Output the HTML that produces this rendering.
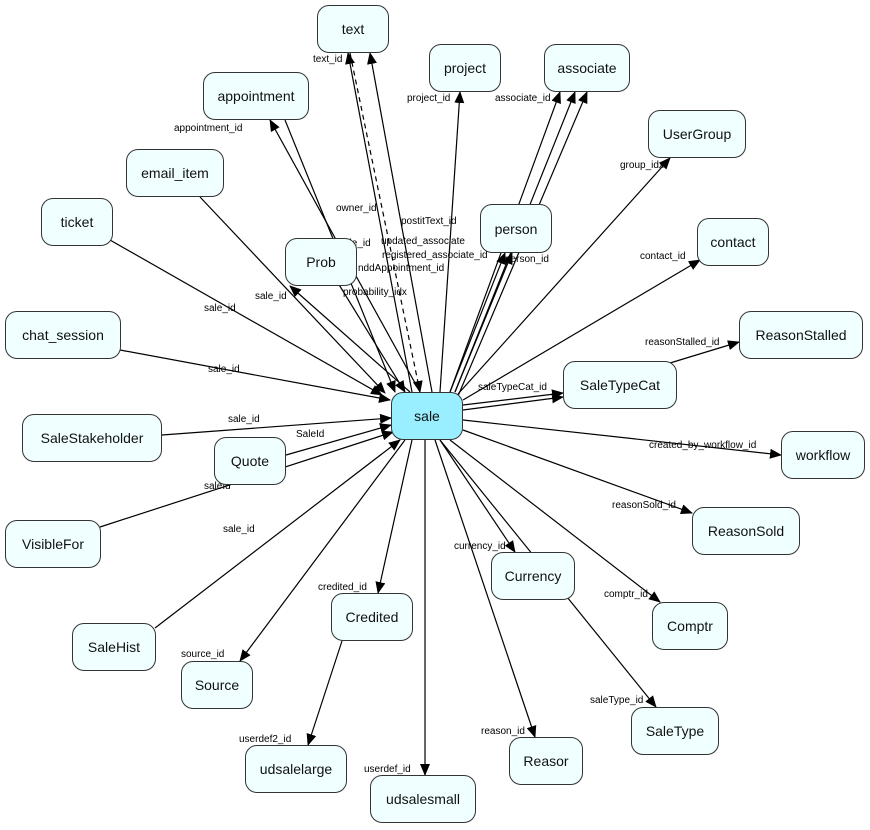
<!DOCTYPE html>
<html><head><meta charset="utf-8"><style>
body{margin:0;background:#fff}
.n{position:absolute;background:#f0ffff;border:1px solid #333;border-radius:12px;box-sizing:border-box;display:flex;align-items:center;justify-content:center;font:14px "Liberation Sans",sans-serif;color:#111}
svg{position:absolute;left:0;top:0}
svg text{font:10px "Liberation Sans",sans-serif;fill:#000}
</style></head><body>
<svg width="870" height="830">
<defs><marker id="a" markerWidth="12" markerHeight="10" refX="11" refY="5" orient="auto" markerUnits="userSpaceOnUse"><path d="M0,0L12,5L0,10z" fill="#000"/></marker></defs>
<g stroke="#000" stroke-width="1.2" fill="none" marker-end="url(#a)">
<!-- incoming to sale -->
<path d="M285,120 L395,392"/>
<path d="M200,197 L385,393"/>
<path d="M110,240 L382,395"/>
<path d="M120,350 L390,400"/>
<path d="M162,435 L391,418"/>
<path d="M286,455 L391,425"/>
<path d="M100,527 L393,432"/>
<path d="M155,628 L400,440"/>
<path d="M330,270 L405,392"/>
<path d="M350,53 L420,392" stroke-dasharray="5,4"/>
<!-- outgoing -->
<path d="M412,392 L348,53"/>
<path d="M432,392 L370,53"/>
<path d="M420,392 L270,120"/>
<path d="M410,392 L290,286"/>
<path d="M440,392 L460,92"/>
<path d="M450,392 L560,92"/>
<path d="M455,392 L575,92"/>
<path d="M458,396 L587,92"/>
<path d="M450,392 L505,253"/>
<path d="M455,392 L512,253"/>
<path d="M458,394 L670,158"/>
<path d="M463,400 L700,260"/>
<path d="M670,363 L739,342"/>
<path d="M463,405 L563,393"/>
<path d="M463,410 L563,397"/>
<path d="M463,420 L781,455"/>
<path d="M463,430 L692,513"/>
<path d="M440,440 L515,552"/>
<path d="M412,440 L378,593"/>
<path d="M450,440 L660,602"/>
<path d="M405,440 L240,661"/>
<path d="M440,440 L656,707"/>
<path d="M435,440 L535,737"/>
<path d="M425,440 L425,775"/>
<path d="M342,641 L308,745"/>
</g>
<text x="313" y="62">text_id</text>
<text x="407" y="101">project_id</text>
<text x="495" y="101">associate_id</text>
<text x="174" y="131">appointment_id</text>
<text x="620" y="168">group_idx</text>
<text x="336" y="211">owner_id</text>
<text x="401" y="224">postitText_id</text>
<text x="339" y="246">sale_id</text>
<text x="381" y="244">updated_associate</text>
<text x="382" y="258">registered_associate_id</text>
<text x="358" y="271">nddAppointment_id</text>
<text x="505" y="262">person_id</text>
<text x="640" y="259">contact_id</text>
<text x="343" y="295">probability_idx</text>
<text x="255" y="299">sale_id</text>
<text x="204" y="311">sale_id</text>
<text x="645" y="345">reasonStalled_id</text>
<text x="208" y="372">sale_id</text>
<text x="478" y="390">saleTypeCat_id</text>
<text x="228" y="422">sale_id</text>
<text x="296" y="437">SaleId</text>
<text x="649" y="448">created_by_workflow_id</text>
<text x="204" y="489">saleId</text>
<text x="612" y="508">reasonSold_id</text>
<text x="223" y="532">sale_id</text>
<text x="454" y="549">currency_id</text>
<text x="318" y="590">credited_id</text>
<text x="604" y="597">comptr_id</text>
<text x="181" y="657">source_id</text>
<text x="590" y="703">saleType_id</text>
<text x="481" y="734">reason_id</text>
<text x="239" y="742">userdef2_id</text>
<text x="364" y="772">userdef_id</text>
</svg>
<div class="n" style="left:317px;top:5px;width:72px;height:48px">text</div>
<div class="n" style="left:429px;top:44px;width:72px;height:48px">project</div>
<div class="n" style="left:544px;top:44px;width:86px;height:48px">associate</div>
<div class="n" style="left:203px;top:72px;width:106px;height:48px">appointment</div>
<div class="n" style="left:648px;top:110px;width:98px;height:48px">UserGroup</div>
<div class="n" style="left:126px;top:149px;width:98px;height:48px">email_item</div>
<div class="n" style="left:480px;top:204px;width:72px;height:49px">person</div>
<div class="n" style="left:41px;top:198px;width:72px;height:48px">ticket</div>
<div class="n" style="left:697px;top:218px;width:72px;height:48px">contact</div>
<div class="n" style="left:285px;top:238px;width:72px;height:48px">Prob</div>
<div class="n" style="left:5px;top:311px;width:116px;height:48px">chat_session</div>
<div class="n" style="left:739px;top:311px;width:124px;height:48px">ReasonStalled</div>
<div class="n" style="left:563px;top:361px;width:114px;height:48px">SaleTypeCat</div>
<div class="n" style="left:391px;top:392px;width:72px;height:48px;background:#99eeff">sale</div>
<div class="n" style="left:22px;top:414px;width:140px;height:48px">SaleStakeholder</div>
<div class="n" style="left:781px;top:431px;width:84px;height:48px">workflow</div>
<div class="n" style="left:214px;top:437px;width:72px;height:48px">Quote</div>
<div class="n" style="left:5px;top:520px;width:96px;height:48px">VisibleFor</div>
<div class="n" style="left:692px;top:507px;width:108px;height:48px">ReasonSold</div>
<div class="n" style="left:491px;top:552px;width:84px;height:48px">Currency</div>
<div class="n" style="left:331px;top:593px;width:82px;height:48px">Credited</div>
<div class="n" style="left:652px;top:602px;width:76px;height:48px">Comptr</div>
<div class="n" style="left:72px;top:623px;width:84px;height:48px">SaleHist</div>
<div class="n" style="left:181px;top:661px;width:72px;height:48px">Source</div>
<div class="n" style="left:631px;top:707px;width:88px;height:48px">SaleType</div>
<div class="n" style="left:509px;top:737px;width:74px;height:48px">Reasor</div>
<div class="n" style="left:245px;top:745px;width:102px;height:48px">udsalelarge</div>
<div class="n" style="left:370px;top:775px;width:106px;height:48px">udsalesmall</div>
</body></html>
